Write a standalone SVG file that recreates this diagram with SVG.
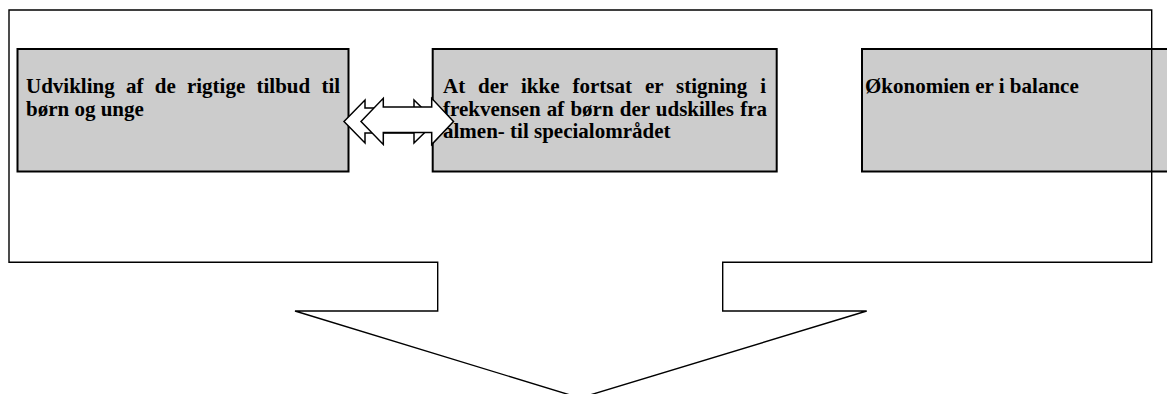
<svg xmlns="http://www.w3.org/2000/svg" width="1167" height="394" viewBox="0 0 1167 394">
<style>
.box{fill:#cccccc;stroke:#000;stroke-width:2}
.lbl{font-family:"Liberation Serif","Times New Roman",serif;font-weight:bold;font-size:21px;fill:#000}
.outline{fill:none;stroke:#000;stroke-width:1.4;stroke-linejoin:miter}
.arr{fill:#fff;stroke:#000;stroke-width:1.5;stroke-linejoin:miter}
</style>
<rect x="0" y="0" width="1167" height="394" fill="#fff"/>
<g id="node-udvikling">
<rect class="box" x="17.5" y="49" width="331" height="122.5"/>
<text class="lbl"><tspan x="26" y="93" word-spacing="6">Udvikling af de rigtige tilbud til</tspan><tspan x="26" y="115.5">børn og unge</tspan></text>
</g>
<g id="node-stigning">
<rect class="box" x="432.7" y="49" width="344" height="122.5"/>
<text class="lbl"><tspan x="443" y="93" word-spacing="7.7">At der ikke fortsat er stigning i</tspan><tspan x="443" y="115.5" word-spacing="0.9">frekvensen af børn der udskilles fra</tspan><tspan x="443" y="138">almen- til specialområdet</tspan></text>
</g>
<g id="node-oekonomi">
<rect class="box" x="862" y="49" width="344" height="122.5"/>
<text class="lbl"><tspan x="865" y="93">Økonomien er i balance</tspan></text>
</g>
<g id="frame">
<polygon class="outline" points="9,10 1151.7,10 1151.7,262.3 722.7,262.3 722.7,311 866.7,311 580,398 295,311 437.7,311 437.7,262.3 9,262.3"/>
</g>
<g id="connectors">
<polygon class="arr" points="344,121.5 365,100 365,108 414,108 414,100 436,121.5 414,143 414,133 365,133 365,143"/>
<polygon class="arr" points="361,121.5 383.3,98.3 383.3,107 431.7,107 431.7,98.3 453.5,121.5 431.7,144.5 431.7,132.5 383.3,132.5 383.3,144.5"/>
</g>
</svg>
